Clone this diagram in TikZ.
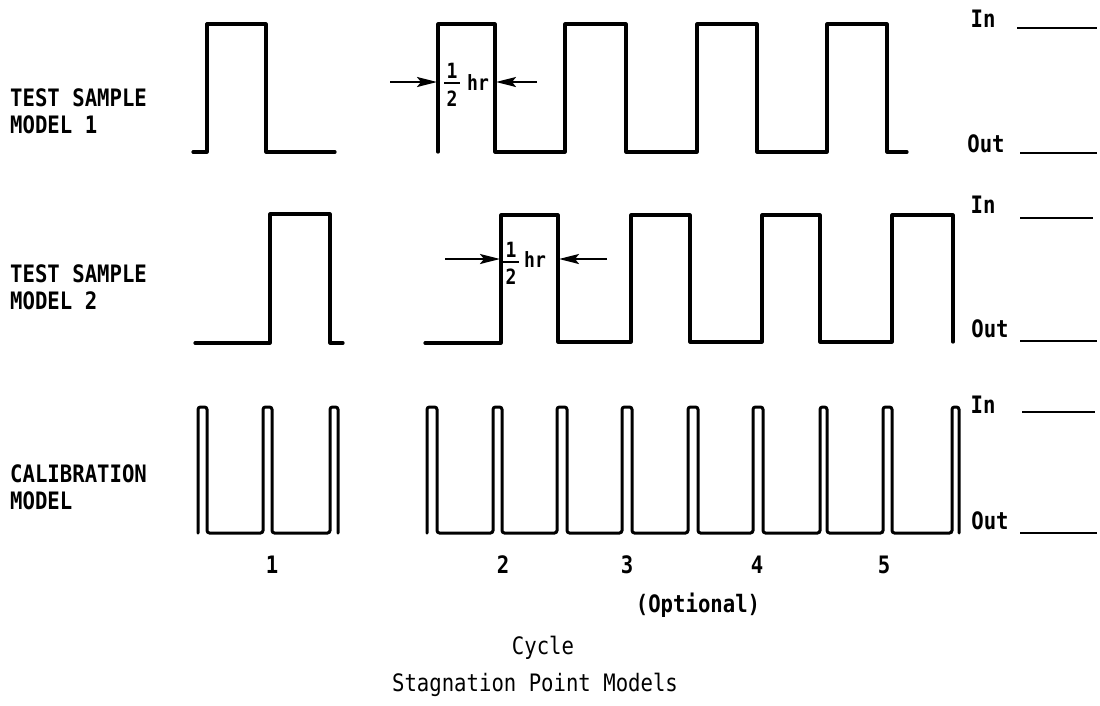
\documentclass[tikz,border=0pt]{standalone}
\usepackage{fontspec}
\newfontfamily\typefont[FakeStretch=0.86]{DejaVu Sans Mono}
\usetikzlibrary{arrows.meta}
\begin{document}
\begin{tikzpicture}[x=1pt,y=-1pt,
  wave/.style={line width=3.2pt, line join=round, line cap=round},
  calib/.style={line width=3pt, rounded corners=2.5pt, line cap=round},
  lbl/.style={font=\typefont\bfseries\fontsize{24}{27}\selectfont, inner sep=0pt, align=left},
  captxt/.style={font=\typefont\fontsize{24}{27}\selectfont, inner sep=0pt},
  lvl/.style={line width=2.8pt},
  dimarrow/.style={line width=2.2pt, -{Stealth[length=20pt,width=10pt,inset=4pt]}},
  fracdigit/.style={font=\typefont\bfseries\fontsize{21}{22}\selectfont, inner sep=0pt},
  fracbar/.style={line width=1.6pt}
]
\useasboundingbox (0,0) rectangle (1100,705);

% row labels
\node[lbl, anchor=west] (lab1) at (10,111) {TEST SAMPLE\\MODEL 1};
\node[lbl, anchor=west] (lab2) at (10,287) {TEST SAMPLE\\MODEL 2};
\node[lbl, anchor=west] (lab3) at (10,487) {CALIBRATION\\MODEL};

% row 1 waveform
\draw[wave] (193,152) -- (207,152) -- (207,24) -- (266,24) -- (266,152) -- (335,152);
\draw[wave] (438,152) -- (438,24) -- (495,24) -- (495,152) -- (565,152) -- (565,24) -- (626,24) -- (626,152)
  -- (697,152) -- (697,24) -- (757,24) -- (757,152) -- (827,152) -- (827,24) -- (887,24) -- (887,152) -- (907,152);

% row 2 waveform
\draw[wave] (195,343) -- (270,343) -- (270,214) -- (330,214) -- (330,343) -- (343,343);
\draw[wave] (425,343) -- (501,343) -- (501,215) -- (558,215) -- (558,342) -- (631,342) -- (631,215) -- (690,215) -- (690,342)
  -- (762,342) -- (762,215) -- (820,215) -- (820,342) -- (892,342) -- (892,215) -- (953,215) -- (953,342);

% row 3 calibration pulses
\draw[calib] (198,533) -- (198,407) -- (207,407) -- (207,533) -- (263,533) -- (263,407) -- (272,407) -- (272,533)
  -- (330,533) -- (330,407) -- (338,407) -- (338,533);
\draw[calib] (427,533) -- (427,407) -- (437,407) -- (437,533) -- (493,533) -- (493,407) -- (502,407) -- (502,533)
  -- (557,533) -- (557,407) -- (567,407) -- (567,533) -- (622,533) -- (622,407) -- (632,407) -- (632,533)
  -- (688,533) -- (688,407) -- (698,407) -- (698,533) -- (753,533) -- (753,407) -- (763,407) -- (763,533)
  -- (820,533) -- (820,407) -- (827,407) -- (827,533) -- (883,533) -- (883,407) -- (892,407) -- (892,533)
  -- (952,533) -- (952,407) -- (959,407) -- (959,533);

% half-hour dimension marks, row 1
\node[fracdigit] (n1) at (452,71) {1};
\node[fracdigit] (d1) at (452,99) {2};
\node[fracdigit] (h1) at (478,83) {hr};
\draw[fracbar] ([xshift=-2pt,yshift=-4pt]n1.south west) -- ([xshift=2pt,yshift=-4pt]n1.south east);
\coordinate (a1l) at (390,82); \coordinate (a1lt) at (437,82);
\coordinate (a1r) at (537,82); \coordinate (a1rt) at (496,82);
\draw[dimarrow] (a1l) -- (a1lt);
\draw[dimarrow] (a1r) -- (a1rt);

% half-hour dimension marks, row 2
\node[fracdigit] (n2) at (511,250) {1};
\node[fracdigit] (d2) at (511,277) {2};
\node[fracdigit] (h2) at (535,260) {hr};
\draw[fracbar] ([xshift=-2pt,yshift=-4pt]n2.south west) -- ([xshift=2pt,yshift=-4pt]n2.south east);
\coordinate (a2l) at (445,259); \coordinate (a2lt) at (500,259);
\coordinate (a2r) at (607,259); \coordinate (a2rt) at (559,259);
\draw[dimarrow] (a2l) -- (a2lt);
\draw[dimarrow] (a2r) -- (a2rt);

% In / Out levels
\node[lbl, anchor=base] (in1) at (983,27) {In};
\node[lbl, anchor=base] (out1) at (986,152) {Out};
\node[lbl, anchor=base] (in2) at (983,213) {In};
\node[lbl, anchor=base] (out2) at (990,337) {Out};
\node[lbl, anchor=base] (in3) at (983,413) {In};
\node[lbl, anchor=base] (out3) at (990,529) {Out};
\draw[lvl] (1017,28) -- (1097,28);
\draw[lvl] (1020,153) -- (1097,153);
\draw[lvl] (1020,218) -- (1093,218);
\draw[lvl] (1020,341) -- (1097,341);
\draw[lvl] (1022,412) -- (1095,412);
\draw[lvl] (1020,533) -- (1097,533);

% cycle numbers and captions
\node[lbl] (c1) at (272,565) {1};
\node[lbl] (c2) at (503,565) {2};
\node[lbl] (c3) at (627,565) {3};
\node[lbl] (c4) at (757,565) {4};
\node[lbl] (c5) at (884,565) {5};
\node[lbl] (opt) at (698,605) {(Optional)};
\node[captxt] (cyc) at (543,648) {Cycle};
\node[captxt] (title) at (535,685) {Stagnation Point Models};
\end{tikzpicture}
\end{document}
